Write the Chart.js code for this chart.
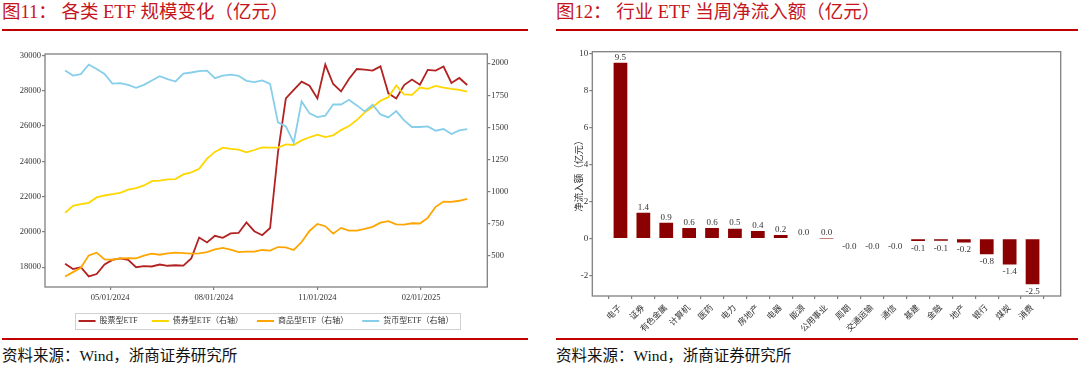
<!DOCTYPE html>
<html>
<head>
<meta charset="utf-8">
<script src="https://cdn.jsdelivr.net/npm/chart.js@4.4.1/dist/chart.umd.min.js"></script>
<style>
html, body { margin: 0; padding: 0; background: #fff; }
body { width: 1080px; height: 373px; position: relative; overflow: hidden;
       font-family: "Liberation Serif", "Noto Sans CJK SC", serif; }
.title { position: absolute; top: 0; line-height: 24px; font-size: 18.5px; color: #c4161c; white-space: pre; }
.rule { position: absolute; height: 2px; background: #c00000; }
.src { position: absolute; top: 346px; line-height: 20px; font-size: 15.5px; color: #111; white-space: pre; }
.box { position: absolute; top: 40px; height: 295px; }
</style>
</head>
<body>
<div class="title" style="left:2px">图11： 各类 ETF 规模变化（亿元）</div>
<div class="title" style="left:556px">图12： 行业 ETF 当周净流入额（亿元）</div>
<div class="rule" style="left:2px;width:526px;top:29px"></div>
<div class="rule" style="left:556px;width:522px;top:29px"></div>

<div class="box" style="left:0;width:532px"><canvas id="etfSize"></canvas></div>
<div class="box" style="left:540px;width:540px"><canvas id="netInflow"></canvas></div>

<div class="rule" style="left:2px;width:526px;top:338px"></div>
<div class="rule" style="left:556px;width:522px;top:338px"></div>
<div class="src" style="left:2px">资料来源：Wind，浙商证券研究所</div>
<div class="src" style="left:556px">资料来源：Wind，浙商证券研究所</div>

<script>
// weekly ETF size (亿元)
const weekDates = [
    '2024-03-22', '2024-03-29', '2024-04-05', '2024-04-12', '2024-04-19', '2024-04-26',
    '2024-05-03', '2024-05-10', '2024-05-17', '2024-05-24', '2024-05-31',
    '2024-06-07', '2024-06-14', '2024-06-21', '2024-06-28',
    '2024-07-05', '2024-07-12', '2024-07-19', '2024-07-26',
    '2024-08-02', '2024-08-09', '2024-08-16', '2024-08-23', '2024-08-30',
    '2024-09-06', '2024-09-13', '2024-09-20', '2024-09-27',
    '2024-10-04', '2024-10-11', '2024-10-18', '2024-10-25',
    '2024-11-01', '2024-11-08', '2024-11-15', '2024-11-22', '2024-11-29',
    '2024-12-06', '2024-12-13', '2024-12-20', '2024-12-27',
    '2025-01-03', '2025-01-10', '2025-01-17', '2025-01-24', '2025-01-31',
    '2025-02-07', '2025-02-14', '2025-02-21', '2025-02-28', '2025-03-07', '2025-03-14'
];
const stockEtf = [
    18190, 17890, 18000, 17480, 17610, 18150, 18410, 18500, 18410, 18000,
    18060, 18040, 18150, 18080, 18110, 18090, 18490, 19680, 19400, 19780,
    19660, 19910, 19940, 20540, 20040, 19810, 20220, 24500, 27560, 28040,
    28510, 28280, 27560, 29480, 28380, 27960, 28660, 29230, 29190, 29140,
    29380, 27850, 27560, 28320, 28630, 28340, 29180, 29140, 29370, 28440,
    28720, 28320
];
const bondEtf = [
    836, 891, 904, 914, 956, 971, 982, 992, 1016, 1029,
    1049, 1083, 1086, 1096, 1099, 1135, 1151, 1178, 1258, 1310,
    1343, 1333, 1328, 1307, 1325, 1346, 1343, 1343, 1369, 1364,
    1400, 1424, 1444, 1426, 1439, 1480, 1511, 1558, 1617, 1659,
    1708, 1736, 1827, 1757, 1754, 1811, 1801, 1824, 1811, 1801,
    1793, 1780
];
const commodityEtf = [
    341, 375, 409, 505, 526, 474, 471, 482, 484, 482,
    503, 518, 510, 521, 526, 523, 518, 521, 531, 552,
    563, 549, 531, 534, 534, 547, 542, 570, 568, 547,
    609, 695, 750, 732, 674, 719, 698, 698, 711, 727,
    760, 771, 747, 745, 755, 753, 797, 883, 924, 922,
    930, 945
];
const moneyEtf = [
    1943, 1904, 1915, 1990, 1956, 1917, 1842, 1845, 1832, 1809,
    1832, 1866, 1899, 1876, 1858, 1920, 1928, 1938, 1943, 1884,
    1904, 1912, 1902, 1863, 1853, 1866, 1840, 1540, 1509, 1382,
    1703, 1610, 1581, 1592, 1679, 1679, 1716, 1672, 1625, 1677,
    1602, 1579, 1628, 1555, 1504, 1504, 1509, 1475, 1488, 1449,
    1478, 1488
];
const sizeTickLabels = ['05/01/2024', '08/01/2024', '11/01/2024', '02/01/2025'];
const sizeLeftTicks = [18000, 20000, 22000, 24000, 26000, 28000, 30000];
const sizeRightTicks = [500, 750, 1000, 1250, 1500, 1750, 2000];

// weekly net inflow by industry (亿元)
const industries = ['电子', '证券', '有色金属', '计算机', '医药', '电力', '房地产', '电器', '能源', '公用事业',
    '周期', '交通运输', '通信', '基建', '金融', '地产', '银行', '煤炭', '消费'];
const netInflow = [9.5, 1.4, 0.86, 0.57, 0.57, 0.54, 0.41, 0.2, 0.04, 0.01,
    -0.04, -0.04, -0.04, -0.13, -0.12, -0.21, -0.84, -1.4, -2.47];
const inflowTicks = [-2, 0, 2, 4, 6, 8, 10];

const FONT = "'Liberation Serif', 'Noto Sans CJK SC', serif";
Chart.defaults.font.family = FONT;
Chart.defaults.color = '#333';

const utc = s => {
    const [y, m, d] = s.split('-').map(Number);
    return Date.UTC(y, m - 1, d);
};
const mdy = s => {
    const [m, d, y] = s.split('/').map(Number);
    return Date.UTC(y, m - 1, d);
};
const t0 = utc(weekDates[0]);
const dayNo = ms => (ms - t0) / 864e5;
const series = vals => vals.map((v, i) => ({ x: dayNo(utc(weekDates[i])), y: v }));

const frame = {
    id: 'frame',
    afterDraw(chart) {
        const { ctx, chartArea: a } = chart;
        ctx.save();
        ctx.strokeStyle = '#808080';
        ctx.lineWidth = 1.3;
        ctx.strokeRect(a.left, a.top, a.right - a.left, a.bottom - a.top);
        ctx.restore();
    }
};

const legendBox = {
    id: 'legendBox',
    afterDraw(chart) {
        const boxes = chart.legend && chart.legend.legendHitBoxes;
        if (!boxes || !boxes.length) return;
        const l = Math.min(...boxes.map(b => b.left)) - 4;
        const r = Math.max(...boxes.map(b => b.left + b.width)) + 6;
        const t = boxes[0].top - 4;
        const h = boxes[0].height + 8;
        const ctx = chart.ctx;
        ctx.save();
        ctx.strokeStyle = '#d0d0d0';
        ctx.lineWidth = 1;
        ctx.strokeRect(Math.round(l) + 0.5, Math.round(t) + 0.5, Math.round(r - l), Math.round(h));
        ctx.restore();
    }
};

const tickGrid = { display: true, drawOnChartArea: false, drawTicks: true, tickLength: 3, color: '#808080', lineWidth: 1.2 };
const plain = v => String(v);

new Chart(document.getElementById('etfSize'), {
    type: 'line',
    data: {
        datasets: [
            { label: '股票型ETF', data: series(stockEtf), borderColor: '#b22222', backgroundColor: '#b22222', yAxisID: 'y', order: 4 },
            { label: '债券型ETF（右轴）', data: series(bondEtf), borderColor: '#ffd700', backgroundColor: '#ffd700', yAxisID: 'y1', order: 3 },
            { label: '商品型ETF（右轴）', data: series(commodityEtf), borderColor: '#ffa500', backgroundColor: '#ffa500', yAxisID: 'y1', order: 2 },
            { label: '货币型ETF（右轴）', data: series(moneyEtf), borderColor: '#87ceeb', backgroundColor: '#87ceeb', yAxisID: 'y1', order: 1 }
        ]
    },
    options: {
        responsive: true,
        maintainAspectRatio: false,
        animation: false,
        elements: { point: { radius: 0 }, line: { borderWidth: 1.8, tension: 0 } },
        layout: { padding: { top: 14, left: 0, right: 0, bottom: 0 } },
        scales: {
            x: {
                type: 'linear', min: -17.85, max: 374.85,
                afterBuildTicks: s => { s.ticks = sizeTickLabels.map(l => ({ value: dayNo(mdy(l)) })); },
                ticks: { callback: (v, i) => sizeTickLabels[i], font: { size: 8.5 }, padding: 3, maxRotation: 0, autoSkip: false },
                grid: tickGrid,
                border: { display: false },
                afterFit: s => { s.height = 16; }
            },
            y: {
                position: 'left', min: 16877, max: 30079,
                afterBuildTicks: s => { s.ticks = sizeLeftTicks.map(v => ({ value: v })); },
                ticks: { callback: plain, font: { size: 8.5 }, padding: 1 },
                grid: tickGrid,
                border: { display: false },
                afterFit: s => { s.width = 45; }
            },
            y1: {
                position: 'right', min: 259, max: 2072,
                afterBuildTicks: s => { s.ticks = sizeRightTicks.map(v => ({ value: v })); },
                ticks: { callback: plain, font: { size: 8.5 }, padding: 1 },
                grid: tickGrid,
                border: { display: false },
                afterFit: s => { s.width = 44.7; }
            }
        },
        plugins: {
            tooltip: { enabled: false },
            legend: {
                position: 'bottom',
                labels: {
                    boxWidth: 17, boxHeight: 2, padding: 14,
                    font: { size: 8 }, color: '#333',
                    sort: (a, b) => a.datasetIndex - b.datasetIndex,
                    generateLabels: chart => Chart.defaults.plugins.legend.labels.generateLabels(chart)
                        .map(item => ({ ...item, lineWidth: 0, fillStyle: item.strokeStyle }))
                }
            }
        }
    },
    plugins: [frame, legendBox]
});

const barLabels = {
    id: 'barLabels',
    afterDatasetsDraw(chart) {
        const { ctx } = chart;
        const meta = chart.getDatasetMeta(0);
        ctx.save();
        ctx.font = '9px ' + FONT;
        ctx.fillStyle = '#333';
        ctx.textAlign = 'center';
        meta.data.forEach((bar, i) => {
            const v = netInflow[i];
            if (v >= 0) {
                ctx.textBaseline = 'bottom';
                ctx.fillText(v.toFixed(1), bar.x, Math.min(bar.y, bar.base) - 1);
            } else {
                ctx.textBaseline = 'top';
                ctx.fillText(v.toFixed(1), bar.x, Math.max(bar.y, bar.base) + 3);
            }
        });
        ctx.restore();
    }
};

new Chart(document.getElementById('netInflow'), {
    type: 'bar',
    data: {
        datasets: [{
            label: '净流入额',
            data: netInflow.map((v, i) => ({ x: i, y: v })),
            backgroundColor: '#8b0000',
            barPercentage: 0.6,
            categoryPercentage: 1
        }]
    },
    options: {
        responsive: true,
        maintainAspectRatio: false,
        animation: false,
        layout: { padding: { top: 11.7, left: 0, right: 19.3, bottom: 0 } },
        scales: {
            x: {
                type: 'linear', min: -1.23, max: 19.23, offset: false,
                afterBuildTicks: s => { s.ticks = industries.map((_, i) => ({ value: i })); },
                ticks: { callback: (v, i) => industries[i], font: { size: 8.5 }, padding: 4, minRotation: 45, maxRotation: 45, autoSkip: false },
                grid: tickGrid,
                border: { display: false },
                afterFit: s => { s.height = 39; }
            },
            y: {
                min: -3.1, max: 10.1,
                afterBuildTicks: s => { s.ticks = inflowTicks.map(v => ({ value: v })); },
                ticks: { callback: plain, font: { size: 9 }, padding: 1 },
                grid: tickGrid,
                border: { display: false },
                title: { display: true, text: '净流入额（亿元）', font: { size: 9.5 }, padding: { top: 34, bottom: 0 } },
                afterFit: s => { s.width = 52.3; }
            }
        },
        plugins: {
            legend: { display: false },
            tooltip: { enabled: false }
        }
    },
    plugins: [frame, barLabels]
});
</script>
</body>
</html>
